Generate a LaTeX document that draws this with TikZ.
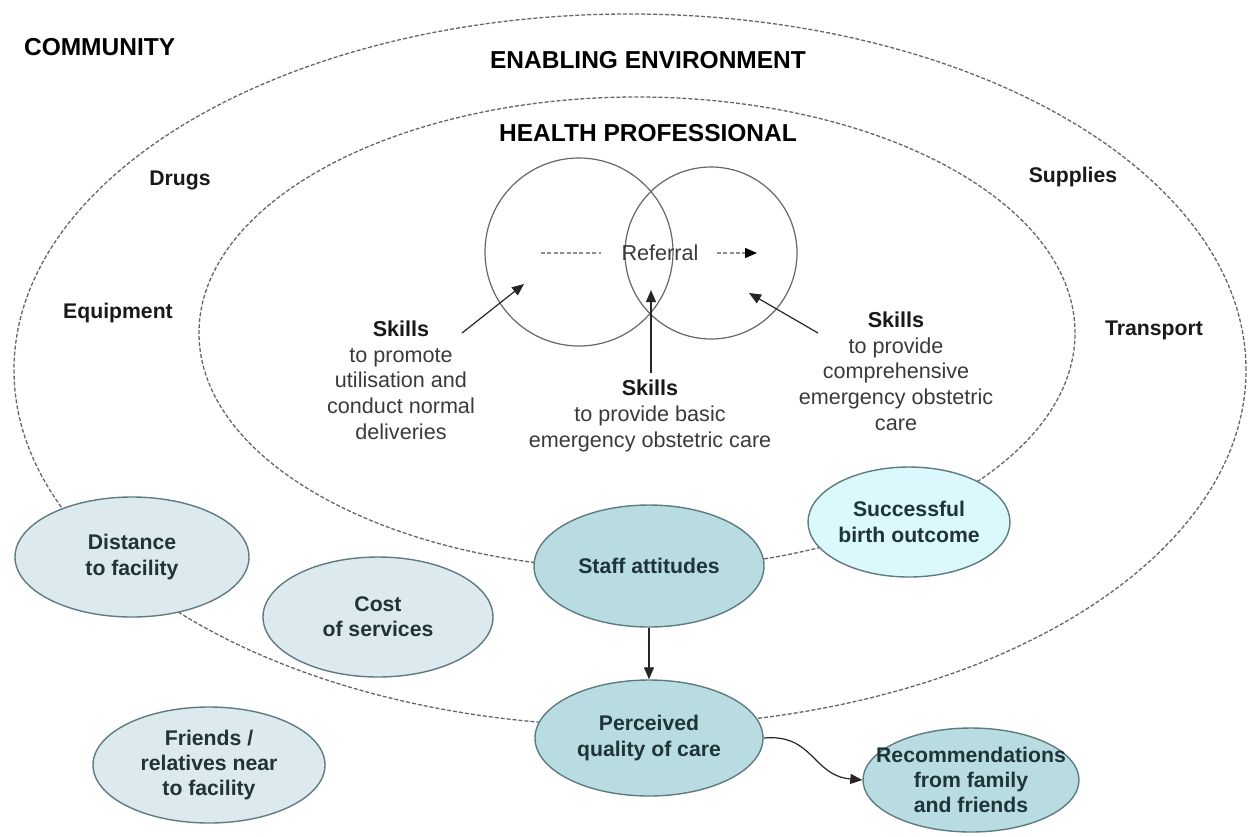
\documentclass[tikz,border=0pt]{standalone}
\usepackage{fontspec}
\setmainfont{Liberation Sans}
\usetikzlibrary{arrows.meta,shapes.geometric}
\tikzset{>={Triangle[length=6pt,width=5pt]}}

\definecolor{paleblue}{HTML}{DCE9EE}
\definecolor{midblue}{HTML}{B8DCE1}
\definecolor{paleaqua}{HTML}{DBF8FC}
\definecolor{rimgrey}{HTML}{5E7C80}
\definecolor{blobink}{HTML}{1E3438}
\definecolor{bodyink}{HTML}{3A3A3A}

\tikzset{
  zone/.style={draw=black!60, line width=0.65pt, dash pattern=on 2pt off 1pt},
  ring/.style={draw=black!60, line width=0.6pt},
  heading/.style={font=\fontsize{12.25}{14}\selectfont\bfseries},
  factor/.style={font=\fontsize{10.6}{12.6}\selectfont\bfseries, text=black!90},
  skills/.style={align=center, text=bodyink, font=\fontsize{10.8}{12.85}\selectfont},
  blob/.style={ellipse, draw=rimgrey, line width=0.7pt, inner sep=0pt},
  blobtext/.style={align=center, text=blobink, font=\fontsize{10.6}{12.6}\selectfont\bfseries},
  refline/.style={draw=black!45, line width=0.7pt, dash pattern=on 2pt off 1.2pt},
  link/.style={->, draw=black!85, line width=0.6pt},
}

\begin{document}
\begin{tikzpicture}[x=0.5pt, y=-0.5pt]
    \useasboundingbox (0,0) rectangle (1248,836);

    % community and health professional zones
    \draw [zone] (630,370) ellipse [x radius=308pt, y radius=178pt];
    \draw [zone] (637,333) ellipse [x radius=219pt, y radius=118pt];

    \node [heading, anchor=west] (community) at (17,47) {COMMUNITY};
    \node [heading] (enabling) at (648,60) {ENABLING ENVIRONMENT};
    \node [heading] (professional) at (648,133) {HEALTH PROFESSIONAL};

    \node [factor] (drugs) at (180,180) {Drugs};
    \node [factor] (equipment) at (118,313) {Equipment};
    \node [factor] (supplies) at (1073,177) {Supplies};
    \node [factor] (transport) at (1154,330) {Transport};

    % levels of care and referral
    \draw [ring] (579,252) circle [radius=47pt];
    \draw [ring] (711,253) circle [radius=43pt];
    \node [skills, inner sep=0pt] (referral) at (660,253) {Referral};
    \coordinate (reffrom) at (541,253);
    \coordinate (refto) at (757,253);
    \draw [refline, shorten >=10pt] (reffrom) -- (referral);
    \draw [refline, -{Triangle[length=6pt,width=5pt,black]}, shorten <=9pt] (referral) -- (refto);

    \node [skills] (skillsL) at (401,380) {{\bfseries\color{black!90}Skills}\\to promote\\utilisation and\\conduct normal\\deliveries};
    \node [skills] (skillsM) at (650,416) {{\bfseries\color{black!90}Skills}\\to provide basic\\emergency obstetric care};
    \node [skills] (skillsR) at (896,371) {{\bfseries\color{black!90}Skills}\\to provide\\comprehensive\\emergency obstetric\\care};

    \coordinate (tailL) at (462,333);
    \coordinate (tipL) at (524,284);
    \coordinate (tipM) at (651,290);
    \coordinate (tailR) at (818,333);
    \coordinate (tipR) at (749,293);
    \draw [link] (tailL) -- (tipL);
    \draw [link] (skillsM.north -| tipM) -- (tipM);
    \draw [link] (tailR) -- (tipR);

    % factors
    \node [blob, fill=paleblue, minimum width=117pt, minimum height=60pt,
        label={[blobtext]center:{Distance\\to facility}}] (distance) at (132,557) {};
    \node [blob, fill=paleblue, minimum width=115pt, minimum height=60pt,
        label={[blobtext]center:{Cost\\of services}}] (cost) at (378,617) {};
    \node [blob, fill=paleblue, minimum width=116pt, minimum height=58pt,
        label={[blobtext]center:{Friends /\\relatives near\\to facility}}] (friends) at (209,765) {};
    \node [blob, fill=midblue, minimum width=115pt, minimum height=61pt,
        label={[blobtext]center:{Staff attitudes}}] (staff) at (649,566) {};
    \node [blob, fill=paleaqua, minimum width=101pt, minimum height=55pt,
        label={[blobtext]center:{Successful\\birth outcome}}] (success) at (909,522) {};
    \node [blob, fill=midblue, minimum width=114pt, minimum height=58pt,
        label={[blobtext]center:{Perceived\\quality of care}}] (perceived) at (649,738) {};
    \node [blob, fill=midblue, minimum width=108pt, minimum height=52pt,
        label={[blobtext]center:{Recommendations\\from family\\and friends}}] (recommend) at (971,780) {};

    \draw [link] (staff) -- (perceived);
    \draw [link] (perceived.east) to [out=5, in=175, looseness=1.2] (recommend.west);
\end{tikzpicture}
\end{document}
